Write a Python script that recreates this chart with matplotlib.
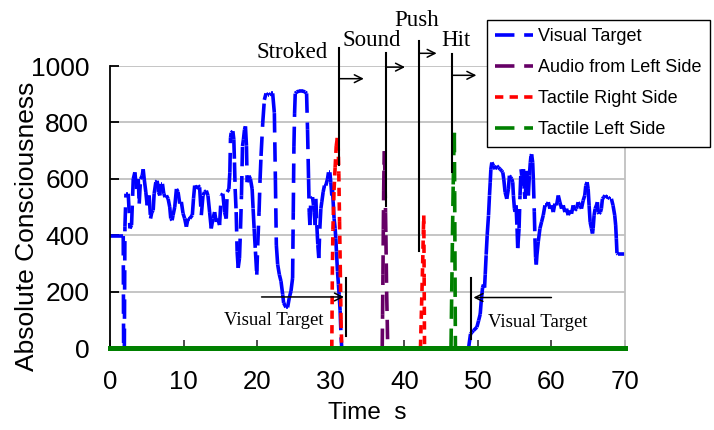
import numpy as np
import matplotlib.pyplot as plt
from matplotlib.collections import LineCollection
from matplotlib.lines import Line2D

plt.rcParams['font.family'] = ['Liberation Sans', 'DejaVu Sans']
plt.rcParams['lines.scale_dashes'] = False

# ---- data (time in s, absolute consciousness) ----
visual_t = [0, 1.8, 1.85, 1.95, 2.03, 2.17, 2.48, 2.71, 2.93, 3.16, 3.38, 3.61, 3.84, 3.97, 4.15, 4.38, 4.51,
            4.65, 4.87, 5.05, 5.32, 5.51, 5.69, 5.87, 6.0, 6.23, 6.41, 6.59, 6.77, 6.9, 7.13, 7.31, 7.49, 7.67,
            7.9, 8.12, 8.26, 8.44, 8.57, 8.8, 9.03, 9.25, 9.48, 9.7, 9.93, 10.15, 10.38, 10.6, 10.83, 11.19, 11.35,
            11.51, 11.73, 11.96, 12.18, 12.41, 12.64, 12.86, 13.09, 13.31, 13.54, 13.76, 13.99, 14.22, 14.44,
            14.67, 14.89, 15.12, 15.34, 15.57, 15.8, 15.93, 16.16, 16.29, 16.38, 16.47, 16.7, 16.83, 16.92, 17.01,
            17.15, 17.28, 17.42, 17.6, 17.74, 17.87, 18.01, 18.14, 18.28, 18.41, 18.55, 18.64, 18.87, 19.09,
            19.32, 19.45, 19.59, 19.77, 19.95, 20.08, 20.26, 20.4, 20.53, 20.76, 20.98, 21.21, 21.44, 21.66,
            21.89, 22.11, 22.34, 22.48, 22.61, 22.79, 23.02, 23.24, 23.47, 23.6,
            23.92, 24.14, 24.37, 24.6, 24.82, 24.91, 25.0, 25.09, 25.18, 25.36, 25.72, 26.17, 26.54, 26.72,
            26.85, 26.99, 27.08, 27.17, 27.3, 27.53, 27.66, 27.75, 27.89, 27.98, 28.11, 28.25, 28.38, 28.52,
            28.66, 28.79, 28.97, 29.15, 29.33, 29.56, 29.7, 29.88, 30.01, 30.15, 30.24, 30.33, 30.46, 30.6,
            30.69, 30.78, 30.92, 31.05, 31.14, 31.28, 31.41, 31.5, 48.74,
            49.0, 49.2, 49.42, 49.87, 50.1, 50.32, 50.46, 50.64, 50.77, 50.91, 51.0, 51.13, 51.27, 51.45, 51.58,
            51.68, 51.77, 51.9, 52.13, 52.35, 52.58, 52.8, 53.03, 53.25, 53.39, 53.52, 53.7, 53.93, 54.15, 54.29,
            54.47, 54.61, 54.74, 54.83, 54.97, 55.06, 55.19, 55.33, 55.42, 55.6, 55.73, 55.87, 55.96, 56.1,
            56.19, 56.32, 56.41, 56.5, 56.64, 56.77, 56.86, 57.0, 57.13, 57.22, 57.31, 57.45, 57.54, 57.67,
            57.76, 57.85, 57.94, 58.03, 58.21, 58.44, 58.66, 58.89, 59.12, 59.35, 59.57, 59.8, 60.02, 60.25,
            60.47, 60.7, 60.93, 61.15, 61.38, 61.6, 61.83, 62.05, 62.28, 62.5, 62.73, 62.96, 63.18, 63.41, 63.63,
            63.86, 64.08, 64.31, 64.53, 64.67, 64.85, 64.99, 65.12, 65.26, 65.44, 65.58, 65.67, 65.8, 65.94,
            66.12, 66.25, 66.34, 66.48, 66.66, 66.79, 66.93, 67.11, 67.29, 67.47, 67.7, 67.92, 68.15, 68.37,
            68.6, 68.73, 68.82, 68.91, 69.05, 70.0]
visual_v = [397, 397, 0, 0, 430, 547, 547, 424, 436, 599, 623, 564, 599, 512, 599, 611, 634,
            599, 553, 506, 541, 459, 482, 488, 547, 588, 593, 553, 541, 582, 582, 547, 535, 541,
            529, 500, 459, 453, 471, 500, 564, 553, 512, 518, 477, 459, 430, 459, 459, 471, 530,
            576, 564, 576, 570, 471, 541, 553, 558, 541, 482, 424, 459, 482, 447,
            459, 436, 541, 547, 482, 459, 553, 564, 623, 745, 763, 769, 740, 658, 564,
            482, 342, 284, 319, 424, 541, 716, 740, 774, 786, 716, 588, 611, 599,
            564, 494, 424, 342, 260, 365, 482, 599, 681, 798, 880, 903, 897, 897,
            903, 903, 833, 599, 365, 296, 260, 237, 190, 160,
            144, 144, 178, 202, 248, 482, 716, 833, 903, 908, 911, 911, 908, 903,
            774, 599, 482, 436, 529, 535, 506, 482, 436, 529, 436, 365, 319, 424,
            494, 518, 553, 576, 576, 599, 623, 623, 588, 541, 564, 518, 459, 424,
            389, 342, 272, 225, 190, 132, 38, 0, 0,
            50, 56, 62, 74, 97, 120, 167, 214, 225, 214, 260, 331, 401, 471, 541,
            588, 634, 658, 646, 634, 646, 640, 634, 628, 623, 599, 553, 529, 564, 611,
            605, 599, 588, 541, 494, 483, 506, 424, 354, 424, 541, 634, 611, 576,
            634, 553, 529, 564, 628, 588, 541, 611, 658, 681, 687, 658, 599, 483,
            389, 319, 296, 330, 377, 424, 447, 471, 506, 506, 517, 494, 506, 482,
            512, 506, 541, 517, 494, 506, 482, 494, 471, 488, 476, 506, 488, 494, 517,
            506, 494, 523, 541, 576, 588, 564, 506, 447, 424, 406, 424, 471, 494,
            506, 517, 482, 476, 482, 494, 529, 535, 541, 535, 535, 529, 529, 506,
            471, 436, 389, 336, 333, 333]

audio_t = [0, 37.0, 37.05, 37.1, 37.15, 37.2, 37.25, 37.3, 37.38, 37.45, 37.5, 37.55, 37.6, 37.68, 37.75, 70]
audio_v = [0, 0, 120, 260, 420, 560, 650, 698, 600, 480, 400, 300, 200, 100, 0, 0]

tactile_r_t = [0, 30.15, 30.22, 30.3, 30.45, 30.6, 30.75, 30.9, 31.0, 31.1, 31.2, 31.3, 31.4, 31.5,
               42.2, 42.35, 42.5, 42.6, 42.65, 42.7, 42.75, 70]
tactile_r_v = [0, 0, 260, 420, 560, 640, 716, 745, 730, 620, 450, 280, 100, 0,
               0, 150, 300, 420, 470, 250, 0, 0]

tactile_l_t = [0, 46.35, 46.45, 46.55, 46.65, 46.75, 46.8, 46.85, 46.9, 46.95, 70]
tactile_l_v = [0, 0, 200, 400, 580, 720, 763, 550, 250, 0, 0]

labels = ['Visual Target', 'Audio from Left Side', 'Tactile Right Side', 'Tactile Left Side']
colors = ['#0000ff', '#660066', '#ff0000', '#008000']
dashes = [(14, 7), (14, 7), (6, 4.5), (14, 7)]

# event annotations
events = ['Stroked', 'Sound', 'Push', 'Hit']
event_x = [31.1, 37.5, 42.0, 46.45]
event_top = [1064, 1045, 1090, 1044]
event_bottom = [648, 505, 343, 623]
arrow_y = [955, 996, 1045, 967]
arrow_end = [34.5, 40.1, 44.4, 49.8]
event_text_x = [24.8, 35.6, 41.7, 47.0]
event_text_y = [1048, 1090, 1163, 1090]

fig = plt.figure(figsize=(7.14, 4.30), dpi=100)
ax = fig.add_axes([110 / 714, 82 / 430, 515 / 714, 282 / 430])


def dashed_series(t, v, color, dash):
    # Excel restarts the dash pattern on every segment
    pts = np.column_stack([t, v])
    segs = np.stack([pts[:-1], pts[1:]], axis=1)
    lc = LineCollection(segs, colors=color, linewidths=2.6, linestyles=[(0, dash)],
                        capstyle='butt')
    ax.add_collection(lc)


series = [(visual_t, visual_v), (audio_t, audio_v), (tactile_r_t, tactile_r_v), (tactile_l_t, tactile_l_v)]
for (t, v), c, d in zip(series, colors, dashes):
    dashed_series(t, v, c, d)

ax.set_xlim(0, 70)
ax.set_ylim(0, 1000)
ax.set_xticks(np.arange(0, 71, 10))
ax.set_yticks(np.arange(0, 1001, 200))
ax.yaxis.grid(True, color='#c0c0c0', lw=1.3)
ax.set_axisbelow(True)

ax.spines['top'].set_visible(False)
ax.spines['right'].set_color('#c0c0c0')
ax.spines['right'].set_linewidth(1.3)
ax.spines['left'].set_linewidth(1.3)
ax.spines['bottom'].set_color('#008000')
ax.spines['bottom'].set_linewidth(3.6)

ax.tick_params(axis='y', direction='in', length=6.5, width=1.3, color='k', pad=15, labelsize=19)
ax.tick_params(axis='x', direction='in', length=6, width=1.3, color='#404040', pad=16, labelsize=18.5)

ax.set_xlabel('Time  s', fontsize=17.5)
ax.set_ylabel('Absolute Consciousness', fontsize=19)
ax.xaxis.set_label_coords(0.5, -0.19)
ax.yaxis.set_label_coords(-0.137, 0.43)

serif = ['Liberation Serif', 'DejaVu Serif']
for name, x, top, bot, ay, ae, tx, ty in zip(events, event_x, event_top, event_bottom,
                                              arrow_y, arrow_end, event_text_x, event_text_y):
    ax.plot([x, x], [bot, top], color='k', lw=1.5, clip_on=False)
    ax.annotate('', xy=(ae, ay), xytext=(x, ay), annotation_clip=False,
                arrowprops=dict(arrowstyle='->', color='k', lw=1.1, mutation_scale=14,
                                shrinkA=0, shrinkB=0))
    ax.text(tx, ty, name, family=serif, fontsize=16.5, ha='center', va='center', clip_on=False)

# "Visual Target" markers near the bottom
ax.plot([32.1, 32.1], [42, 249], color='k', lw=1.5)
ax.annotate('', xy=(31.8, 181), xytext=(20.6, 181),
            arrowprops=dict(arrowstyle='->', color='k', lw=1.1, mutation_scale=14, shrinkA=0, shrinkB=0))
ax.text(22.3, 98, 'Visual Target', family=serif, fontsize=13.5, ha='center', va='center')
ax.plot([49.1, 49.1], [33, 249], color='k', lw=1.5)
ax.annotate('', xy=(49.4, 179), xytext=(60.0, 179),
            arrowprops=dict(arrowstyle='->', color='k', lw=1.1, mutation_scale=14, shrinkA=0, shrinkB=0))
ax.text(58.1, 91, 'Visual Target', family=serif, fontsize=13.5, ha='center', va='center')

handles = [Line2D([], [], color=c, lw=2.6, linestyle=(0, d)) for c, d in zip(colors, dashes)]
leg = fig.legend(handles, labels, loc='upper right', bbox_to_anchor=(710 / 714, 1 - 20 / 430),
                 fontsize=13, frameon=True, fancybox=False, framealpha=1, edgecolor='k',
                 handlelength=2.1, handletextpad=0.3, labelspacing=0.78, borderpad=0.45,
                 borderaxespad=0)
leg.get_frame().set_linewidth(1.0)

fig.savefig('out.png', dpi=100)
